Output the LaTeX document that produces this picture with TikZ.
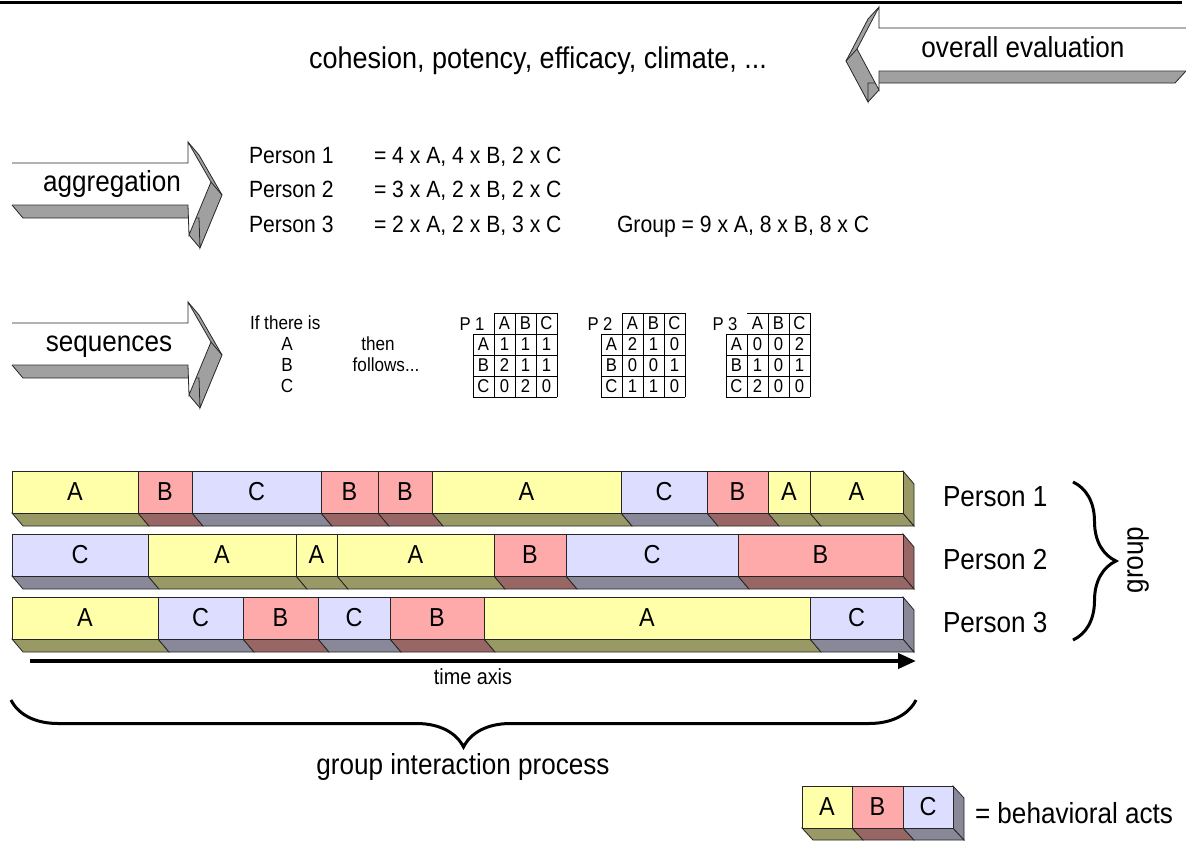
\documentclass[tikz,border=0pt]{standalone}
\usepackage{fontspec}
\setmainfont{Liberation Sans}[FakeStretch=0.9]
\usetikzlibrary{arrows.meta,decorations.pathreplacing}
\definecolor{colA}{HTML}{FFFFAA}
\definecolor{darkA}{HTML}{999966}
\definecolor{colB}{HTML}{FFAAAA}
\definecolor{darkB}{HTML}{996666}
\definecolor{colC}{HTML}{DDDDFF}
\definecolor{darkC}{HTML}{888899}
\definecolor{arrowgray}{HTML}{A0A0A0}
\newcommand\fs[1]{\fontsize{#1}{#1}\selectfont}
\newcommand\seqtable[5]{% #1 left x, #2 name, #3 label, #4 data, #5 header-left border (1/0)
  \node[txt,tabtxt] (#2-label) at (#1-1,324) {#3};
  \foreach \h [count=\i] in {A,B,C}
    \node[txt,tabtxt] (#2-h\h) at (#1+21*\i+10.5,323.5) {\h};
  \foreach \r/\p/\q/\s [count=\j] in {#4} {
    \node[txt,tabtxt] (#2-\r) at (#1+10.5,323.5+21*\j) {\r};
    \node[txt,tabtxt] (#2-\r-a) at (#1+31.5,323.5+21*\j) {\p};
    \node[txt,tabtxt] (#2-\r-b) at (#1+52.5,323.5+21*\j) {\q};
    \node[txt,tabtxt] (#2-\r-c) at (#1+73.5,323.5+21*\j) {\s};
  }
  \draw[tabline] (#1+21,313) -- (#1+84,313);
  \ifnum#5=1 \draw[tabline] (#1+21,313) -- (#1+21,334);\fi
  \foreach \k in {42,63,84} \draw[tabline] (#1+\k,313) -- (#1+\k,397);
  \foreach \k in {0,21} \draw[tabline] (#1+\k,334) -- (#1+\k,397);
  \foreach \k in {334,355,376,397} \draw[tabline] (#1,\k) -- (#1+84,\k);
}
\begin{document}
\begin{tikzpicture}[x=1pt,y=-1pt,
  edge/.style={draw=black!85,line width=0.8pt},
  txt/.style={inner sep=0pt,outer sep=0pt},
  big/.style={font=\fs{29}},
  mid/.style={font=\fs{23.5}},
  small/.style={font=\fs{19}},
  tabtxt/.style={font=\fs{18.5}},
  barlabel/.style={txt,font=\fs{26}},
  tabline/.style={draw=black,line width=0.7pt},
  bracestyle/.style={line width=3pt,decorate},
]
\useasboundingbox (0,0) rectangle (1186,841);

% top rule
\coordinate (tl0) at (0,2.5);
\coordinate (tl1) at (1182,2.5);
\draw[line width=3.5pt] (tl0) -- (tl1);

% ---------- overall evaluation arrow (pointing left) ----------
\begin{scope}[shift={(0,28)}]
  \fill[arrowgray] (1186,43) -- (1175,55) -- (868,55) -- (879,43) -- cycle;
  \fill[arrowgray] (879,-21) -- (868,-9) -- (846,33) -- (868,74) -- (879,62) -- (879,43) -- cycle;
  \draw[edge] (1186,43) -- (1175,55) -- (868,55) -- (868,74) -- (846,33) -- (868,-9) -- (879,-21);
  \fill[white] (1186,0) -- (879,0) -- (879,-21) -- (857,21) -- (879,62) -- (879,43) -- (1186,43) -- cycle;
  \draw[edge] (1186,0) -- (879,0) -- (879,-21) -- (857,21) -- (879,62) -- (879,43) -- (1186,43);
  \draw[edge] (857,21) -- (846,33);
  \draw[edge] (879,62) -- (868,74);
\end{scope}
\node[txt,big,anchor=base] (overall) at (1023,57) {overall evaluation};
\node[txt,font=\fs{30},anchor=base] (cohesion) at (538,68) {cohesion, potency, efficacy, climate, ...};

% ---------- right-pointing arrows ----------
\foreach \yy in {163,323} {
\begin{scope}[shift={(0,\yy)}]
  \fill[arrowgray] (12,42) -- (23,55) -- (199,55) -- (188,42) -- cycle;
  \fill[arrowgray] (188,-21) -- (199,-8) -- (222,32) -- (200,85) -- (189,72) -- (188,42) -- cycle;
  \draw[edge] (12,42) -- (23,55) -- (199,55) -- (200,85) -- (222,32) -- (199,-8) -- (188,-21);
  \fill[white] (12,0) -- (188,0) -- (188,-21) -- (211,19) -- (189,72) -- (188,42) -- (12,42) -- cycle;
  \draw[edge] (12,0) -- (188,0) -- (188,-21) -- (211,19) -- (189,72) -- (188,42) -- (12,42);
  \draw[edge] (211,19) -- (222,32);
  \draw[edge] (189,72) -- (200,85);
\end{scope}
}
\node[txt,big,anchor=base] (aggr) at (112,191) {aggregation};
\node[txt,big,anchor=base] (seq) at (109,351) {sequences};

% ---------- aggregation text ----------
\node[txt,mid,anchor=base west] (p1) at (249,163) {Person 1};
\node[txt,mid,anchor=base west] (p1c) at (374,163) {= 4 x A, 4 x B, 2 x C};
\node[txt,mid,anchor=base west] (p2) at (249,197) {Person 2};
\node[txt,mid,anchor=base west] (p2c) at (374,197) {= 3 x A, 2 x B, 2 x C};
\node[txt,mid,anchor=base west] (p3) at (249,232) {Person 3};
\node[txt,mid,anchor=base west] (p3c) at (374,232) {= 2 x A, 2 x B, 3 x C};
\node[txt,mid,anchor=base west] (grp) at (617,232) {Group = 9 x A, 8 x B, 8 x C};

% ---------- sequences text ----------
\node[txt,small,anchor=base west] (ifthere) at (250,329) {If there is};
\node[txt,small,anchor=base] (sa) at (287,350) {A};
\node[txt,small,anchor=base] (sb) at (287,371) {B};
\node[txt,small,anchor=base] (sc) at (287,392) {C};
\node[txt,small,anchor=base] (then) at (378,350) {then};
\node[txt,small,anchor=base] (follows) at (386,371) {follows...};

\seqtable{473}{tP1}{P 1}{A/1/1/1,B/2/1/1,C/0/2/0}{1}
\seqtable{601}{tP2}{P 2}{A/2/1/0,B/0/0/1,C/1/1/0}{1}
\seqtable{726}{tP3}{P 3}{A/0/0/2,B/1/0/1,C/2/0/0}{0}

% ---------- behavioural act bars ----------
\foreach \yy/\segs/\last in {
 471/{12/138/A,138/192/B,192/321/C,321/378/B,378/432/B,432/621/A,621/707/C,707/768/B,768/810/A,810/903/A}/A,
 534/{12/148/C,148/296/A,296/337/A,337/494/A,494/566/B,566/738/C,738/903/B}/B,
 597/{12/158/A,158/243/C,243/318/B,318/390/C,390/484/B,484/810/A,810/903/C}/C}
{
  \foreach \a/\b/\t in \segs {
    \filldraw[fill=dark\t,edge] (\a,\yy+42) -- (\b,\yy+42) -- (\b+11,\yy+55) -- (\a+11,\yy+55) -- cycle;
  }
  \filldraw[fill=dark\last,edge] (903,\yy) -- (914,\yy+13) -- (914,\yy+55) -- (903,\yy+42) -- cycle;
  \foreach \a/\b/\t in \segs {
    \filldraw[fill=col\t,edge] (\a,\yy) rectangle (\b,\yy+42);
    \node[barlabel] (act-\yy-\a) at ({(\a+\b)/2},\yy+21) {\t};
  }
}

% person labels and group brace
\node[txt,big,anchor=west] (rp1) at (943,497) {Person 1};
\node[txt,big,anchor=west] (rp2) at (943,560) {Person 2};
\node[txt,big,anchor=west] (rp3) at (943,623) {Person 3};
\coordinate (pb0) at (1073,482);
\coordinate (pb1) at (1073,640);
\draw[bracestyle,decoration={brace,amplitude=43pt}] (pb0) -- (pb1);
\node[txt,big,rotate=90] (grouplbl) at (1138,560) {group};

% time axis
\coordinate (t0) at (30,661);
\coordinate (t1) at (916,661);
\draw[line width=4pt,-{Triangle[length=18pt,width=15pt]}] (t0) -- (t1);
\node[txt,font=\fs{22}] (timeaxis) at (473,677) {time axis};

% process brace
\coordinate (gb0) at (916,700);
\coordinate (gb1) at (11,700);
\draw[bracestyle,decoration={brace,amplitude=47pt}] (gb0) -- (gb1);
\node[txt,big,anchor=base] (gip) at (463,774) {group interaction process};

% legend
\foreach \a/\b/\t in {802/852/A,852/903/B,903/953/C}
  \filldraw[fill=dark\t,edge] (\a,828) -- (\b,828) -- (\b+11,840) -- (\a+11,840) -- cycle;
\filldraw[fill=darkC,edge] (953,786) -- (964,798) -- (964,840) -- (953,828) -- cycle;
\foreach \a/\b/\t in {802/852/A,852/903/B,903/953/C} {
  \filldraw[fill=col\t,edge] (\a,786) rectangle (\b,828);
  \node[barlabel] (leg-\t) at ({(\a+\b)/2},807) {\t};
}
\node[txt,big,anchor=west] (legtxt) at (975,813) {= behavioral acts};
\end{tikzpicture}
\end{document}
